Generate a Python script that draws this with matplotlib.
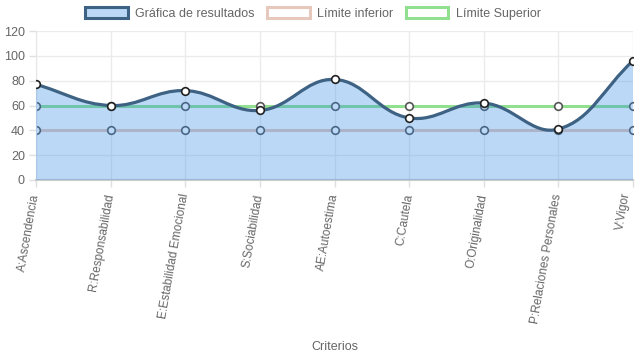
import matplotlib
matplotlib.use("Agg")
import matplotlib.pyplot as plt
from matplotlib.path import Path
from matplotlib.patches import PathPatch, Patch
import numpy as np

plt.rcParams['font.family'] = ['Liberation Sans', 'DejaVu Sans']

# Data
criterios = ["A:Ascendencia", "R:Responsabilidad", "E:Estabilidad Emocional",
             "S:Sociabilidad", "AE:Autoestima", "C:Cautela", "O:Originalidad",
             "P:Relaciones Personales", "V:Vigor"]
resultados = [77, 60, 72, 56, 81, 50, 62, 41, 96]
limite_inferior = [40, 40, 40, 40, 40, 40, 40, 40, 40]
limite_superior = [60, 60, 60, 60, 60, 60, 60, 60, 60]

W, H = 637, 359
left, right, top, bottom = 36, 633, 31, 180
ymax = 120


def spline_path(xs, ys, tension=0.4, sx=1.0, sy=1.0, close_to=None):
	# Chart.js style cubic spline, computed in pixel space
	pts = [np.array([x * sx, y * sy]) for x, y in zip(xs, ys)]
	n = len(pts)
	ctrl = []
	for i in range(n):
		prev = pts[i - 1] if i > 0 else pts[i]
		nxt = pts[i + 1] if i < n - 1 else pts[i]
		cur = pts[i]
		d01 = np.hypot(*(cur - prev))
		d12 = np.hypot(*(nxt - cur))
		tot = d01 + d12
		s01 = d01 / tot if tot else 0
		s12 = d12 / tot if tot else 0
		fa, fb = tension * s01, tension * s12
		cp = cur - fa * (nxt - prev)
		cn = cur + fb * (nxt - prev)
		ctrl.append((cp, cn))
	verts = [pts[0]]
	codes = [Path.MOVETO]
	for i in range(1, n):
		verts += [ctrl[i - 1][1], ctrl[i][0], pts[i]]
		codes += [Path.CURVE4] * 3
	verts = [(v[0] / sx, min(max(v[1] / sy, 0), ymax)) for v in verts]
	if close_to is not None:
		verts += [(xs[-1], close_to), (xs[0], close_to), verts[0]]
		codes += [Path.LINETO, Path.LINETO, Path.CLOSEPOLY]
	return Path(verts, codes)


fig = plt.figure(figsize=(W / 100, H / 100), dpi=100)
ax = fig.add_axes([left / W, 1 - bottom / H, (right - left) / W, (bottom - top) / H])

x = np.arange(len(criterios))
sx = (right - left) / (len(criterios) - 1)
sy = (bottom - top) / ymax

fill_col = (0.2, 0.55, 0.9, 0.33)
line_col = '#3e6283'
green = '#90e090'
pink = '#e6c8bc'

# limit lines (drawn under the results fill)
ax.plot(x, limite_superior, color=green, lw=2.2, zorder=2,
        marker='o', ms=5.5, mfc='white', mec='#555555', mew=1.2)
ax.plot(x, limite_inferior, color=pink, lw=2.2, zorder=2,
        marker='o', ms=5.5, mfc='white', mec='#555555', mew=1.2)

# results
ax.add_patch(PathPatch(spline_path(x, resultados, sx=sx, sy=sy, close_to=0),
                       facecolor=fill_col, edgecolor='none', zorder=3))
ax.add_patch(PathPatch(spline_path(x, resultados, sx=sx, sy=sy),
                       facecolor='none', edgecolor=line_col, lw=2.3, zorder=4))
ax.plot(x, resultados, ls='none', marker='o', ms=5.5, mfc='white', mec='#222222',
        mew=1.2, zorder=5)

ax.set_xlim(0, len(criterios) - 1)
ax.set_ylim(0, ymax)
ax.set_yticks(range(0, 121, 20))
ax.set_xticks(x)
labels = ax.set_xticklabels(criterios, rotation=80, ha='right', va='center',
                            rotation_mode='anchor', fontsize=8.5)
labels[-1].set_va('bottom')  # keep last label inside the figure
ax.tick_params(axis='y', colors='#666666', labelsize=9, length=5, width=1, pad=3)
ax.tick_params(axis='x', colors='#666666', length=5, width=1, pad=5)
ax.tick_params(axis='both', color='#e0e0e0')
ax.grid(True, color='#ebebeb', lw=1, zorder=0)
ax.set_axisbelow(True)
for s in ['top', 'right']:
	ax.spines[s].set_visible(False)
ax.spines['left'].set_color('#e6e6e6')
ax.spines['bottom'].set_color('#cccccc')
ax.spines['bottom'].set_linewidth(1.5)

fig.text((left + right) / 2 / W, 1 - 347 / H, "Criterios", ha='center', va='center',
         fontsize=9, color='#666666')

handles = [
	Patch(facecolor=fill_col, edgecolor=line_col, lw=2.2, label='Gráfica de resultados'),
	Patch(facecolor='white', edgecolor=pink, lw=2.2, label='Límite inferior'),
	Patch(facecolor='white', edgecolor=green, lw=2.2, label='Límite Superior'),
]
leg = fig.legend(handles=handles, loc='upper center', bbox_to_anchor=(313 / W, 1 - 2 / H),
                 ncol=3, frameon=False, fontsize=9, handlelength=3.4, handleheight=1.0,
                 handletextpad=0.6, columnspacing=1.0, borderaxespad=0)
for t in leg.get_texts():
	t.set_color('#666666')

fig.savefig("out.png", dpi=100)
